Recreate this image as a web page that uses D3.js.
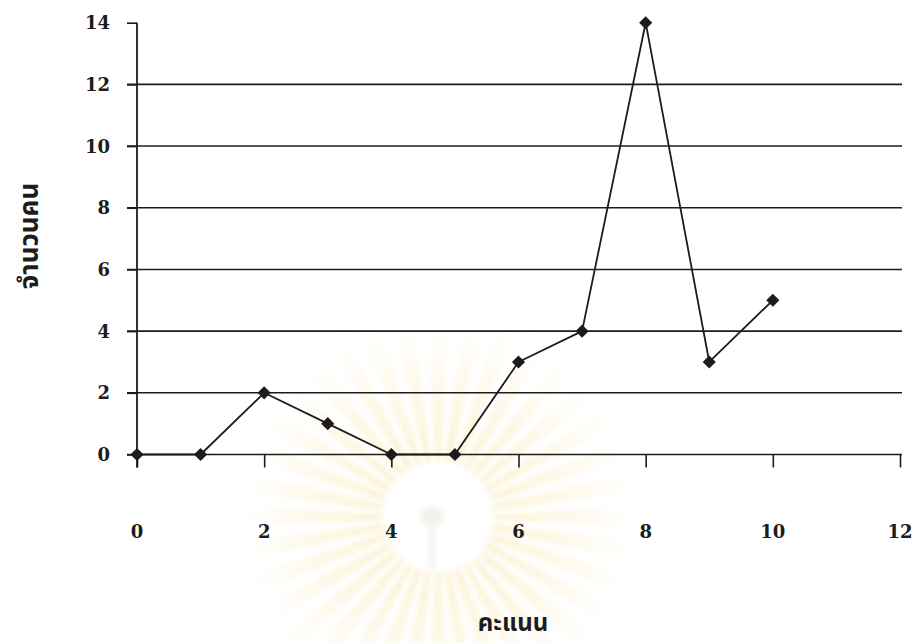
<!DOCTYPE html>
<html>
<head>
<meta charset="utf-8">
<script src="https://cdn.jsdelivr.net/npm/d3@7/dist/d3.min.js"></script>
<style>
  html, body { margin: 0; padding: 0; background: #fff; }
  svg { display: block; }
</style>
</head>
<body>
<svg id="chart" width="914" height="643"></svg>
<script>
// Scores (คะแนน) and number of people (จำนวนคน)
const scores = [0, 1, 2, 3, 4, 5, 6, 7, 8, 9, 10];
const counts = [0, 0, 2, 1, 0, 0, 3, 4, 14, 3, 5];
const xTicks = [0, 2, 4, 6, 8, 10, 12];
const yTicks = [0, 2, 4, 6, 8, 10, 12, 14];
const xTitle = "คะแนน";
const yTitle = "จำนวนคน";

const svg = d3.select("#chart");

const x = d3.scaleLinear().domain([0, 12]).range([137, 900]);
const y = d3.scaleLinear().domain([0, 14]).range([454.5, 22.7]);

// faint sunburst emblem behind the plot
const defs = svg.append("defs");
const grad = defs.append("radialGradient").attr("id", "rayFade")
  .attr("gradientUnits", "userSpaceOnUse").attr("cx", 0).attr("cy", 0).attr("r", 205);
grad.append("stop").attr("offset", "0.28").attr("stop-color", "#f9e7ad").attr("stop-opacity", 0.55);
grad.append("stop").attr("offset", "0.65").attr("stop-color", "#fbeec8").attr("stop-opacity", 0.38);
grad.append("stop").attr("offset", "1").attr("stop-color", "#fdf6e2").attr("stop-opacity", 0);
defs.append("filter").attr("id", "soft").append("feGaussianBlur").attr("stdDeviation", 2.5);

const emblem = svg.append("g").attr("transform", "translate(438,517)").attr("filter", "url(#soft)");
const nRays = 36;
const rays = d3.range(nRays).map(i => {
  const a = (i / nRays) * 2 * Math.PI;
  return { a0: a - 0.05, a1: a + 0.05 };
});
const rayArc = d3.arc().innerRadius(50).outerRadius(205);
emblem.selectAll("path.ray").data(rays).join("path")
  .attr("class", "ray")
  .attr("d", d => rayArc({ startAngle: d.a0, endAngle: d.a1 }))
  .attr("fill", "url(#rayFade)");
emblem.append("circle").attr("r", 55).attr("fill", "#fff");
emblem.append("circle").attr("cx", -6).attr("cy", 0).attr("r", 11).attr("fill", "#f4f1eb");
emblem.append("rect").attr("x", -9).attr("y", 12).attr("width", 6).attr("height", 40).attr("fill", "#f6f4ef");

const ink = "#1c1c1c";

// horizontal gridlines (with short left ticks)
svg.append("g").selectAll("line").data(yTicks.filter(v => v > 0 && v < 14)).join("line")
  .attr("x1", 127).attr("x2", 902)
  .attr("y1", d => y(d)).attr("y2", d => y(d))
  .attr("stroke", ink).attr("stroke-width", 1.6);

// x axis with downward ticks
const xAxis = d3.axisBottom(x).tickValues(xTicks).tickSize(13).tickFormat("");
const gx = svg.append("g").attr("transform", `translate(0,${y(0)})`).call(xAxis);
gx.select(".domain").remove();
gx.selectAll(".tick line").attr("stroke", ink).attr("stroke-width", 1.6);
svg.append("line").attr("x1", 127).attr("x2", 902).attr("y1", y(0)).attr("y2", y(0))
  .attr("stroke", ink).attr("stroke-width", 1.6);

// y axis
const yAxis = d3.axisLeft(y).tickValues(yTicks).tickSize(10).tickFormat("");
const gy = svg.append("g").attr("transform", `translate(${x(0)},0)`).call(yAxis);
gy.select(".domain").remove();
gy.selectAll(".tick line").attr("stroke", ink).attr("stroke-width", 1.6);
svg.append("line").attr("x1", x(0)).attr("x2", x(0)).attr("y1", y(14)).attr("y2", y(0) + 13)
  .attr("stroke", ink).attr("stroke-width", 1.8);

// tick labels
const labelFont = "'DejaVu Serif', 'Liberation Serif', serif";
svg.append("g").selectAll("text").data(yTicks).join("text")
  .attr("x", 110).attr("y", d => y(d)).attr("dy", "0.36em")
  .attr("text-anchor", "end")
  .attr("font-family", labelFont).attr("font-weight", "bold").attr("font-size", 18)
  .attr("fill", ink).text(d => d);
svg.append("g").selectAll("text").data(xTicks).join("text")
  .attr("x", d => x(d)).attr("y", 538)
  .attr("text-anchor", "middle")
  .attr("font-family", labelFont).attr("font-weight", "bold").attr("font-size", 18)
  .attr("fill", ink).text(d => d);

// data line
const pts = scores.map((s, i) => [s, counts[i]]);
svg.append("path").datum(pts)
  .attr("fill", "none").attr("stroke", ink).attr("stroke-width", 1.8)
  .attr("stroke-linejoin", "round")
  .attr("d", d3.line().x(d => x(d[0])).y(d => y(d[1])));

// diamond markers
const diamond = d3.symbol().type(d3.symbolDiamond2).size(110);
svg.append("g").selectAll("path").data(pts).join("path")
  .attr("transform", d => `translate(${x(d[0])},${y(d[1])})`)
  .attr("d", diamond).attr("fill", ink);

// axis titles
const thaiFont = "'Noto Sans Thai', 'Noto Sans', 'DejaVu Sans', sans-serif";
svg.append("text")
  .attr("transform", "translate(38,236) rotate(-90)")
  .attr("text-anchor", "middle")
  .attr("font-family", thaiFont).attr("font-weight", "bold").attr("font-size", 26)
  .attr("fill", ink).text(yTitle);
svg.append("text")
  .attr("x", 513).attr("y", 631)
  .attr("text-anchor", "middle")
  .attr("font-family", thaiFont).attr("font-weight", "bold").attr("font-size", 24)
  .attr("fill", ink).text(xTitle);
</script>
</body>
</html>
